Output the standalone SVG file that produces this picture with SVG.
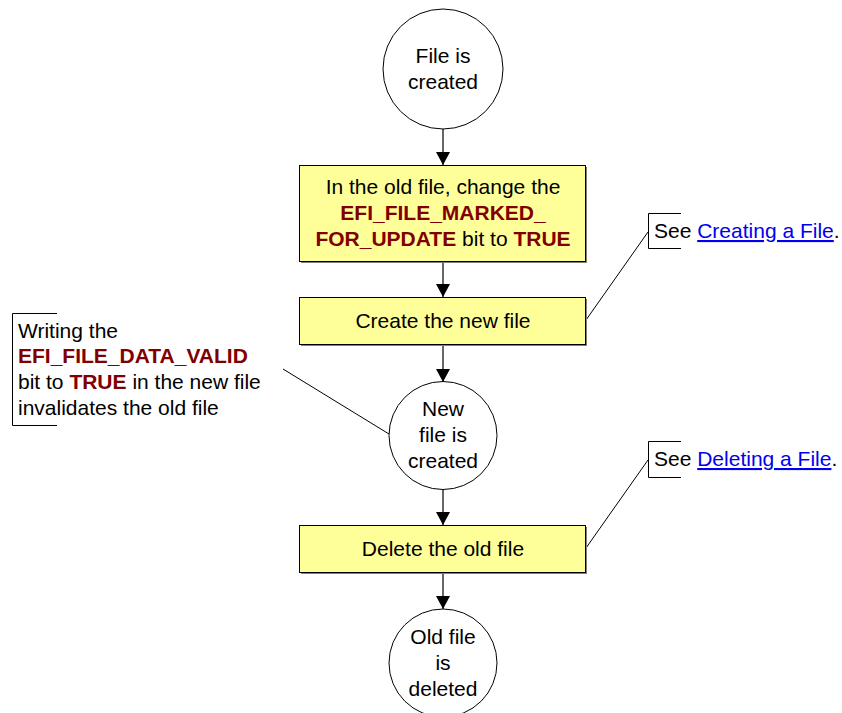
<svg xmlns="http://www.w3.org/2000/svg" width="842" height="713" viewBox="0 0 842 713">
<defs>
<marker id="ah" markerWidth="14" markerHeight="14" refX="13" refY="7" orient="auto" markerUnits="userSpaceOnUse">
<path d="M0,0 L13,7 L0,14 Z" fill="#000"/>
</marker>
<style>
text{font-family:"Liberation Sans",Arial,sans-serif;font-size:21px;fill:#000}
.c{text-anchor:middle}
.r{fill:#800000;font-weight:bold}
.lk{fill:#0000ee;text-decoration:underline}
.box{fill:#ffff99;stroke:#000;stroke-width:1}
.sh{fill:#808080}
.circ{fill:#fff;stroke:#000;stroke-width:1}
.con{stroke:#000;stroke-width:1;fill:none}
.arr{stroke:#000;stroke-width:1.2;fill:none;marker-end:url(#ah)}
</style>
</defs>
<rect width="842" height="713" fill="#fff"/>
<g id="connectors">
<line class="arr" x1="443" y1="129" x2="443" y2="165"/>
<line class="arr" x1="443" y1="263" x2="443" y2="297"/>
<line class="arr" x1="443" y1="346" x2="443" y2="382"/>
<line class="arr" x1="443" y1="489" x2="443" y2="525"/>
<line class="arr" x1="443" y1="574" x2="443" y2="609"/>
<line class="con" x1="586" y1="320" x2="648" y2="232"/>
<line class="con" x1="586" y1="548" x2="648" y2="460"/>
<line class="con" x1="283" y1="369" x2="389" y2="434"/>
</g>
<g id="start">
<circle class="circ" cx="443" cy="69" r="60"/>
<text class="c" x="443" y="63">File is</text>
<text class="c" x="443" y="89">created</text>
</g>
<g id="mark">
<rect class="sh" x="301" y="167" width="286" height="96"/>
<rect class="box" x="299.5" y="165.5" width="286" height="96"/>
<text class="c" x="443" y="194">In the old file, change the</text>
<text class="c r" x="443" y="220">EFI_FILE_MARKED_</text>
<text class="c" x="443" y="246"><tspan class="r">FOR_UPDATE</tspan> bit to <tspan class="r">TRUE</tspan></text>
</g>
<g id="create">
<rect class="sh" x="301" y="299" width="286" height="47"/>
<rect class="box" x="299.5" y="297.5" width="286" height="47"/>
<text class="c" x="443" y="328">Create the new file</text>
</g>
<g id="newfile">
<circle class="circ" cx="443" cy="435.5" r="54"/>
<text class="c" x="443" y="416">New</text>
<text class="c" x="443" y="442">file is</text>
<text class="c" x="443" y="468">created</text>
</g>
<g id="delete">
<rect class="sh" x="301" y="527" width="286" height="47"/>
<rect class="box" x="299.5" y="525.5" width="286" height="47"/>
<text class="c" x="443" y="556">Delete the old file</text>
</g>
<g id="oldfile">
<circle class="circ" cx="443" cy="663" r="54"/>
<text class="c" x="443" y="644">Old file</text>
<text class="c" x="443" y="670">is</text>
<text class="c" x="443" y="696">deleted</text>
</g>
<g id="note-valid">
<path class="con" d="M57,313.5 H12.5 V425.5 H57"/>
<text x="18" y="338">Writing the</text>
<text class="r" x="18" y="363">EFI_FILE_DATA_VALID</text>
<text x="18" y="389">bit to <tspan class="r">TRUE</tspan> in the new file</text>
<text x="18" y="415">invalidates the old file</text>
</g>
<g id="note-create">
<path class="con" d="M681,213.5 H648.5 V248.5 H681"/>
<text x="654" y="238">See <tspan class="lk">Creating a File</tspan>.</text>
</g>
<g id="note-delete">
<path class="con" d="M681,441.5 H648.5 V477.5 H681"/>
<text x="654" y="466">See <tspan class="lk">Deleting a File</tspan>.</text>
</g>
</svg>
